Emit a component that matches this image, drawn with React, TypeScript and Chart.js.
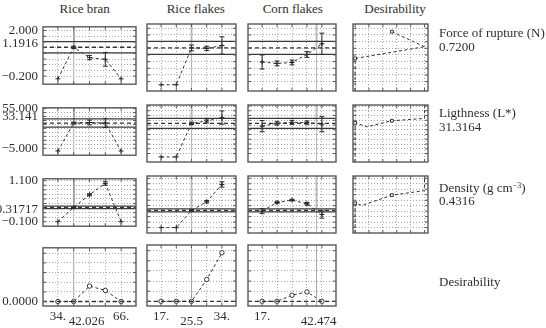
import React, { useEffect, useRef } from 'react';
import { Chart, registerables } from 'chart.js';

Chart.register(...registerables);

const SERIF = '"Liberation Serif", "Times New Roman", Times, serif';
const INK = '#2e2e2e';
const GRID = '#a6a6a6';

// ---------- factors (columns) ----------
const factorNames = ['Rice bran', 'Rice flakes', 'Corn flakes', 'Desirability'];
const riceBranLevels = [34, 42, 50, 58, 66];
const riceFlakesLevels = [17, 21.25, 25.5, 29.75, 34];
const cornFlakesLevels = [17, 24, 31, 38, 45];
const riceBranRange = [26.46, 73.54];
const riceFlakesRange = [13.07, 37.93];
const cornFlakesRange = [10.4, 51.6];
const riceBranEndLabels = ['34.', '66.'];
const riceFlakesEndLabels = ['17.', '34.'];
const cornFlakesEndLabels = ['17.', ''];
const factorCurrent = [42.026, 25.5, 42.474];
const factorCurrentLabels = ['42.026', '25.5', '42.474'];

// ---------- responses (rows) ----------
const forceEnds = [-0.2, 2.0];
const forceEndLabels = ['−0.200', '2.000'];
const forceRange = [-0.589, 2.178];
const forceGridStep = 0.275;
const forceCurrent = 1.1916;
const forceCurrentLabel = '1.1916';
const forceConfidence = 0.27;

const lightEnds = [-5, 55];
const lightEndLabels = ['−5.000', '55.000'];
const lightRange = [-15.66, 56.27];
const lightGridStep = 6;
const lightCurrent = 33.141;
const lightCurrentLabel = '33.141';
const lightConfidence = 6.3;

const densEnds = [-0.1, 1.1];
const densEndLabels = ['−0.100', '1.100'];
const densRange = [-0.232, 1.156];
const densGridStep = 0.4 / 3;
const densCurrent = 0.31717;
const densCurrentLabel = '0.31717';
const densConfidence = 0.037;

// predicted profiles (values and half-widths of the error bars)
const forceRiceBran = [-0.33, 1.19, 0.69, 0.61, -0.33];
const forceRiceBranErr = [0, 0.06, 0.1, 0.33, 0];
const forceRiceFlakes = [-0.33, -0.33, 1.19, 1.17, 1.29];
const forceRiceFlakesErr = [0, 0, 0.12, 0.09, 0.36];
const forceCornFlakes = [0.61, 0.55, 0.59, 0.92, 1.36];
const forceCornFlakesErr = [0.29, 0.1, 0.1, 0.12, 0.44];

const lightRiceBran = [-9.3, 33.1, 34.0, 33.1, -9.3];
const lightRiceBranErr = [0, 1.5, 3.6, 6.8, 0];
const lightRiceFlakes = [-9.3, -9.3, 33.1, 36.1, 40.4];
const lightRiceFlakesErr = [0, 0, 1.5, 2.5, 8.4];
const lightCornFlakes = [29.6, 33.1, 34.4, 34.0, 32.1];
const lightCornFlakesErr = [7, 2, 2.5, 2, 9.5];

const densRiceBran = [-0.1, 0.317, 0.69, 1.02, -0.1];
const densRiceBranErr = [0, 0.02, 0.03, 0.05, 0];
const densRiceFlakes = [-0.1, -0.1, 0.317, 0.53, 0.95];
const densRiceFlakesErr = [0, 0, 0.02, 0.03, 0.065];
const densCornFlakes = [0.3, 0.51, 0.57, 0.48, 0.22];
const densCornFlakesErr = [0.06, 0.02, 0.02, 0.03, 0.09];

// overall desirability row
const desirabilityRange = [-0.093, 1.113];
const desirabilityGrid = [0, 0.2, 0.4, 0.6, 0.8, 1.0];
const overallDesirability = 0;
const overallDesirabilityLabel = '0.0000';
const desRiceBran = [0, 0, 0.32, 0.23, 0];
const desRiceFlakes = [0, 0, 0, 0.43, 0.96];
const desCornFlakes = [0, 0, 0.12, 0.185, 0];

// desirability functions (d on x, response on y)
const dAxisRange = [-0.03, 1.05];
const dGrid = [0, 0.2, 0.4, 0.6, 0.8, 1.0];
const forceDesD = [0, 0, 1];
const forceDesV = [-0.589, 0.755, 1.24];
const forceDesMarks = [1];
const forceDesUpperD = [0.53, 1];
const forceDesUpperV = [1.86, 1.24];
const forceDesUpperMarks = [0];
const lightDesD = [0, 0, 0.17, 0.53, 1, 1];
const lightDesV = [-15.66, 33.8, 28.7, 36.4, 39.3, 56.27];
const lightDesMarks = [1, 3];
const densDesD = [0, 0, 0.1, 0.53, 1, 1];
const densDesV = [-0.232, 0.49, 0.44, 0.69, 0.8, 1.156];
const densDesMarks = [1, 3];

// side labels
const responseValues = ['0.7200', '31.3164', '0.4316'];

// ---------- layout ----------
const COLS = [[43, 136], [147, 236], [248, 336], [353, 428]];
const ROWS = [[24, 91], [105, 162], [176, 233], [245, 306]];

const gridFrom = (ends: number[], step: number) => {
  const out: number[] = [];
  const n = Math.round((ends[1] - ends[0]) / step);
  for (let k = 0; k <= n; k++) out.push(ends[0] + k * step);
  return out;
};

const tickLabel = (v: number, ends?: number[], labels?: string[]) => {
  if (!ends || !labels) return '';
  const i = ends.findIndex((e) => Math.abs(e - v) < 1e-6);
  return i >= 0 ? labels[i] : '';
};

const line = (pts: { x: number; y: number }[], color: string, width: number, dash: number[] = []) => ({
  data: pts,
  showLine: true,
  borderColor: color,
  borderWidth: width,
  borderDash: dash,
  pointRadius: 0,
  fill: false,
  tension: 0,
});

const errorBarPlugin = {
  id: 'errorBars',
  afterDatasetsDraw(chart: any) {
    const ctx = chart.ctx;
    const ys = chart.scales.y;
    chart.data.datasets.forEach((ds: any, i: number) => {
      if (!ds.errors) return;
      const meta = chart.getDatasetMeta(i);
      ctx.save();
      ctx.strokeStyle = '#2a2a2a';
      ctx.lineWidth = 1;
      ds.data.forEach((p: any, j: number) => {
        const e = ds.errors[j];
        if (!e) return;
        const x = meta.data[j].x;
        const y1 = ys.getPixelForValue(p.y + e);
        const y2 = ys.getPixelForValue(p.y - e);
        ctx.beginPath();
        ctx.moveTo(x, y1);
        ctx.lineTo(x, y2);
        ctx.moveTo(x - 2.5, y1);
        ctx.lineTo(x + 2.5, y1);
        ctx.moveTo(x - 2.5, y2);
        ctx.lineTo(x + 2.5, y2);
        ctx.stroke();
      });
      ctx.restore();
    });
  },
};

const framePlugin = {
  id: 'panelFrame',
  afterDraw(chart: any) {
    const { ctx, chartArea: a } = chart;
    const sx = chart.scales.x;
    const sy = chart.scales.y;
    ctx.save();
    ctx.strokeStyle = '#595959';
    ctx.lineWidth = 1;
    ctx.beginPath();
    sy.ticks.forEach((t: any) => {
      if (t.labelOnly) return;
      const y = sy.getPixelForValue(t.value);
      ctx.moveTo(a.left, y);
      ctx.lineTo(a.left + 3, y);
      ctx.moveTo(a.right, y);
      ctx.lineTo(a.right - 3, y);
    });
    sx.ticks.forEach((t: any) => {
      if (t.labelOnly) return;
      const x = sx.getPixelForValue(t.value);
      ctx.moveTo(x, a.top);
      ctx.lineTo(x, a.top + 3);
      ctx.moveTo(x, a.bottom);
      ctx.lineTo(x, a.bottom - 3);
    });
    ctx.stroke();
    ctx.lineWidth = 1.4;
    ctx.strokeRect(a.left, a.top, a.right - a.left, a.bottom - a.top);
    ctx.restore();
  },
};

type TickSpec = { value: number; txt: string; labelOnly?: boolean; lower?: boolean };

type PanelSpec = {
  id: string;
  col: number;
  row: number;
  xRange: number[];
  xGrid: number[];
  xEnds?: number[];
  xEndLabels?: string[];
  xCur?: number;
  xCurLabel?: string;
  xCurShift?: number; // px
  yRange: number[];
  yGrid: number[];
  yEnds?: number[];
  yEndLabels?: string[];
  yCur?: number;
  yCurLabel?: string;
  yCurShift?: number; // px, positive = down
  datasets: any[];
};

function makeConfig(s: PanelSpec, box: number[], pad: number[]) {
  const [bw, bh] = box;
  const font = { family: SERIF, size: 13, lineHeight: 1.2 };
  const lowerFont = { family: SERIF, size: 13, lineHeight: 1.97 };

  const xTicks: TickSpec[] = s.xGrid.map((v) => ({ value: v, txt: tickLabel(v, s.xEnds, s.xEndLabels) }));
  if (s.xCurLabel !== undefined && s.xCur !== undefined) {
    const perPx = (s.xRange[1] - s.xRange[0]) / bw;
    xTicks.push({ value: s.xCur + (s.xCurShift || 0) * perPx, txt: s.xCurLabel, labelOnly: true, lower: true });
  }
  xTicks.sort((a, b) => a.value - b.value);

  const yTicks: TickSpec[] = s.yGrid.map((v) => ({ value: v, txt: tickLabel(v, s.yEnds, s.yEndLabels) }));
  if (s.yCurLabel !== undefined && s.yCur !== undefined) {
    const perPx = (s.yRange[1] - s.yRange[0]) / bh;
    yTicks.push({ value: s.yCur - (s.yCurShift || 0) * perPx, txt: s.yCurLabel, labelOnly: true });
  }
  yTicks.sort((a, b) => a.value - b.value);

  const gridColor = (ctx: any) => (ctx.tick && ctx.tick.labelOnly ? 'rgba(0,0,0,0)' : GRID);
  const xLabelled = s.row === 3;
  const yLabelled = s.col === 0;

  const scales: any = {
    x: {
      type: 'linear',
      position: 'bottom',
      min: s.xRange[0],
      max: s.xRange[1],
      afterBuildTicks: (sc: any) => {
        sc.ticks = xTicks.map((t) => ({ ...t }));
      },
      afterFit: (sc: any) => {
        sc.height = xLabelled ? pad[3] : 0;
      },
      grid: { color: gridColor, lineWidth: 1, drawTicks: false },
      border: { display: false, dash: [1, 2] },
      ticks: {
        display: xLabelled,
        padding: 3,
        font: (ctx: any) => (ctx.tick && ctx.tick.lower ? lowerFont : font),
        color: INK,
        autoSkip: false,
        maxRotation: 0,
        minRotation: 0,
        callback: (_v: number, i: number, ticks: any[]) => ticks[i].txt || '',
      },
    },
    y: {
      type: 'linear',
      position: 'left',
      min: s.yRange[0],
      max: s.yRange[1],
      afterBuildTicks: (sc: any) => {
        sc.ticks = yTicks.map((t) => ({ ...t }));
      },
      afterFit: (sc: any) => {
        sc.width = yLabelled ? pad[0] : 0;
      },
      grid: { color: gridColor, lineWidth: 1, drawTicks: false },
      border: { display: false, dash: [1, 2] },
      ticks: {
        display: yLabelled,
        padding: 5,
        font,
        color: INK,
        autoSkip: false,
        callback: (_v: number, i: number, ticks: any[]) => ticks[i].txt || '',
      },
    },
  };

  return {
    type: 'scatter' as const,
    data: { datasets: s.datasets },
    options: {
      responsive: false,
      maintainAspectRatio: false,
      animation: false as const,
      events: [],
      layout: {
        padding: {
          left: yLabelled ? 0 : pad[0],
          top: pad[1],
          right: pad[2],
          bottom: xLabelled ? 0 : pad[3],
        },
      },
      scales,
      plugins: { legend: { display: false }, tooltip: { enabled: false }, title: { display: false } },
    },
    plugins: [errorBarPlugin, framePlugin],
  };
}

function Panel({ spec }: { spec: PanelSpec }) {
  const ref = useRef<HTMLCanvasElement>(null);
  const [l, r] = COLS[spec.col];
  const [t, b] = ROWS[spec.row];
  const pl = spec.col === 0 ? l : 7;
  const pr = 6;
  const pt = 10;
  const pb = spec.row === 3 ? 328 - b : 6;
  const w = r - l + pl + pr;
  const h = b - t + pt + pb;
  useEffect(() => {
    const chart = new Chart(
      ref.current as HTMLCanvasElement,
      makeConfig(spec, [r - l, b - t], [pl, pt, pr, pb]) as any
    );
    return () => chart.destroy();
  }, []);
  return (
    <canvas
      ref={ref}
      width={w}
      height={h}
      style={{ position: 'absolute', left: l - pl, top: t - pt, width: w, height: h }}
    />
  );
}

function buildPanels(): PanelSpec[] {
  const levels = [riceBranLevels, riceFlakesLevels, cornFlakesLevels];
  const xRanges = [riceBranRange, riceFlakesRange, cornFlakesRange];
  const endLabels = [riceBranEndLabels, riceFlakesEndLabels, cornFlakesEndLabels];
  const xShift = [13, 0, 2];

  const rows = [
    {
      ends: forceEnds, endLabels: forceEndLabels, range: forceRange, step: forceGridStep,
      cur: forceCurrent, curLabel: forceCurrentLabel, ci: forceConfidence, curShift: -4.5,
      values: [forceRiceBran, forceRiceFlakes, forceCornFlakes],
      errors: [forceRiceBranErr, forceRiceFlakesErr, forceCornFlakesErr],
      curves: [
        [forceDesD, forceDesV, forceDesMarks],
        [forceDesUpperD, forceDesUpperV, forceDesUpperMarks],
      ],
    },
    {
      ends: lightEnds, endLabels: lightEndLabels, range: lightRange, step: lightGridStep,
      cur: lightCurrent, curLabel: lightCurrentLabel, ci: lightConfidence, curShift: -8,
      values: [lightRiceBran, lightRiceFlakes, lightCornFlakes],
      errors: [lightRiceBranErr, lightRiceFlakesErr, lightCornFlakesErr],
      curves: [[lightDesD, lightDesV, lightDesMarks]],
    },
    {
      ends: densEnds, endLabels: densEndLabels, range: densRange, step: densGridStep,
      cur: densCurrent, curLabel: densCurrentLabel, ci: densConfidence, curShift: 3,
      values: [densRiceBran, densRiceFlakes, densCornFlakes],
      errors: [densRiceBranErr, densRiceFlakesErr, densCornFlakesErr],
      curves: [[densDesD, densDesV, densDesMarks]],
    },
  ];

  const panels: PanelSpec[] = [];
  rows.forEach((rw, ri) => {
    const yGrid = gridFrom(rw.ends, rw.step);
    for (let c = 0; c < 3; c++) {
      const xr = xRanges[c];
      const xc = factorCurrent[c];
      const lv = levels[c];
      panels.push({
        id: `r${ri}c${c}`,
        col: c,
        row: ri,
        xRange: xr,
        xGrid: lv,
        yRange: rw.range,
        yGrid,
        ...(c === 0
          ? { yEnds: rw.ends, yEndLabels: rw.endLabels, yCur: rw.cur, yCurLabel: rw.curLabel, yCurShift: rw.curShift }
          : {}),
        datasets: [
          line([{ x: xr[0], y: rw.cur + rw.ci }, { x: xr[1], y: rw.cur + rw.ci }], '#3a3a3a', 1.3),
          line([{ x: xr[0], y: rw.cur - rw.ci }, { x: xr[1], y: rw.cur - rw.ci }], '#3a3a3a', 1.3),
          line([{ x: xr[0], y: rw.cur }, { x: xr[1], y: rw.cur }], '#333', 1.3, [4, 3]),
          line([{ x: xc, y: rw.range[0] }, { x: xc, y: rw.range[1] }], '#b8b8b8', 1),
          line([{ x: xc, y: rw.range[1] }, { x: xc, y: rw.cur }], '#3a3a3a', 1.3),
          {
            data: lv.map((x, i) => ({ x, y: rw.values[c][i] })),
            errors: rw.errors[c],
            showLine: true,
            borderColor: '#333',
            borderWidth: 1,
            borderDash: [3, 2.5],
            pointStyle: 'cross',
            pointRadius: 2.5,
            pointBorderColor: '#222',
            pointBorderWidth: 1,
            fill: false,
          },
        ],
      });
    }
    panels.push({
      id: `r${ri}d`,
      col: 3,
      row: ri,
      xRange: dAxisRange,
      xGrid: dGrid,
      yRange: rw.range,
      yGrid,
      datasets: rw.curves.map(([d, v, marks]: any) => ({
        data: d.map((x: number, i: number) => ({ x, y: v[i] })),
        showLine: true,
        borderColor: '#333',
        borderWidth: 1,
        borderDash: [3, 2.5],
        pointStyle: 'rect',
        pointRadius: d.map((_: number, i: number) => (marks.includes(i) ? 2 : 0)),
        pointBackgroundColor: '#fff',
        pointBorderColor: '#333',
        pointBorderWidth: 1,
        fill: false,
      })),
    });
  });

  const desProfiles = [desRiceBran, desRiceFlakes, desCornFlakes];
  for (let c = 0; c < 3; c++) {
    const xr = xRanges[c];
    const xc = factorCurrent[c];
    const lv = levels[c];
    panels.push({
      id: `r3c${c}`,
      col: c,
      row: 3,
      xRange: xr,
      xGrid: lv,
      xEnds: [lv[0], lv[lv.length - 1]],
      xEndLabels: endLabels[c],
      xCur: xc,
      xCurLabel: factorCurrentLabels[c],
      xCurShift: xShift[c],
      yRange: desirabilityRange,
      yGrid: desirabilityGrid,
      ...(c === 0 ? { yEnds: [overallDesirability], yEndLabels: [overallDesirabilityLabel] } : {}),
      datasets: [
        line([{ x: xr[0], y: overallDesirability }, { x: xr[1], y: overallDesirability }], '#333', 1.3, [4, 3]),
        line([{ x: xc, y: desirabilityRange[0] }, { x: xc, y: desirabilityRange[1] }], '#a8a8a8', 1),
        {
          data: lv.map((x, i) => ({ x, y: desProfiles[c][i] })),
          showLine: true,
          borderColor: '#333',
          borderWidth: 1,
          borderDash: [3, 2.5],
          pointStyle: 'circle',
          pointRadius: 2.2,
          pointBackgroundColor: '#fff',
          pointBorderColor: '#333',
          pointBorderWidth: 1,
          fill: false,
        },
      ],
    });
  }
  return panels;
}

const textStyle: React.CSSProperties = {
  position: 'absolute',
  fontFamily: SERIF,
  fontSize: 13,
  lineHeight: '14px',
  color: INK,
  whiteSpace: 'nowrap',
};

const titleCenters = [84.7, 195.7, 292.8, 395];

export default function App() {
  const panels = buildPanels();
  return (
    <div
      style={{
        position: 'fixed',
        left: 0,
        top: 0,
        width: 546,
        height: 328,
        overflow: 'hidden',
        background: '#fff',
      }}
    >
      {factorNames.map((n, i) => (
        <div key={n} style={{ ...textStyle, top: 2, left: titleCenters[i] - 60, width: 120, textAlign: 'center' }}>
          {n}
        </div>
      ))}
      {panels.map((p) => (
        <Panel key={p.id} spec={p} />
      ))}
      <div style={{ ...textStyle, left: 439, top: 26.3 }}>Force of rupture (N)</div>
      <div style={{ ...textStyle, left: 439, top: 40.3 }}>{responseValues[0]}</div>
      <div style={{ ...textStyle, left: 439, top: 106.3 }}>Ligthness (L*)</div>
      <div style={{ ...textStyle, left: 439, top: 119.6 }}>{responseValues[1]}</div>
      <div style={{ ...textStyle, left: 439, top: 180.9 }}>
        Density (g cm
        <sup style={{ fontSize: 8, lineHeight: 0, verticalAlign: 4 }}>−3</sup>)
      </div>
      <div style={{ ...textStyle, left: 439, top: 193.6 }}>{responseValues[2]}</div>
      <div style={{ ...textStyle, left: 439, top: 274.6 }}>Desirability</div>
    </div>
  );
}
